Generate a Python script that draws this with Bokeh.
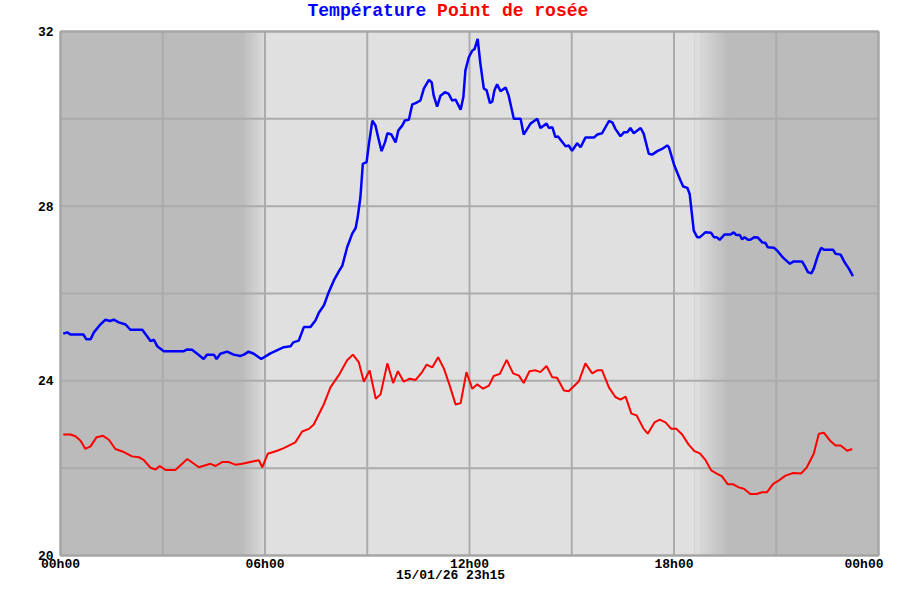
import numpy as np
from bokeh.plotting import figure
from bokeh.models import Range1d
from bokeh.core.properties import value
from bokeh.embed import file_html
from bokeh.resources import INLINE

# ---------------- data ----------------
temp_hours = [0.08, 0.20, 0.29, 0.67, 0.76, 0.88, 0.98, 1.17, 1.32, 1.45, 1.56, 1.71, 1.91, 2.05, 2.40,
              2.54, 2.64, 2.74, 2.84, 3.03, 3.62, 3.72, 3.86, 4.01, 4.20, 4.30, 4.50, 4.58, 4.69, 4.89,
              5.08, 5.28, 5.38, 5.52, 5.67, 5.89, 6.16, 6.41, 6.55, 6.75, 6.83, 6.99, 7.14, 7.33, 7.48,
              7.58, 7.73, 7.87, 8.02, 8.17, 8.27, 8.41, 8.56, 8.66, 8.72, 8.80, 8.87, 8.98, 9.05, 9.15,
              9.24, 9.32, 9.42, 9.52, 9.59, 9.71, 9.83, 9.91, 10.03, 10.10, 10.22, 10.32, 10.42, 10.56,
              10.66, 10.81, 10.89, 10.95, 11.05, 11.15, 11.28, 11.39, 11.49, 11.59, 11.74, 11.82, 11.88,
              11.98, 12.08, 12.15, 12.24, 12.32, 12.42, 12.50, 12.60, 12.67, 12.73, 12.81, 12.91, 13.06,
              13.15, 13.30, 13.50, 13.59, 13.79, 13.99, 14.08, 14.26, 14.33, 14.43, 14.52, 14.59, 14.82,
              14.91, 15.01, 15.16, 15.26, 15.40, 15.65, 15.75, 15.89, 16.09, 16.19, 16.28, 16.43, 16.53,
              16.63, 16.72, 16.82, 17.02, 17.11, 17.26, 17.36, 17.51, 17.65, 17.80, 17.85, 18.01, 18.19,
              18.27, 18.39, 18.46, 18.58, 18.68, 18.76, 18.92, 19.09, 19.17, 19.25, 19.34, 19.48, 19.66,
              19.75, 19.83, 19.93, 20.00, 20.07, 20.17, 20.24, 20.36, 20.46, 20.59, 20.68, 20.75, 20.93,
              21.03, 21.20, 21.40, 21.50, 21.76, 21.83, 21.93, 22.03, 22.10, 22.22, 22.32, 22.40, 22.67,
              22.74, 22.89, 23.00, 23.13, 23.25]
temp_values = [25.08, 25.11, 25.06, 25.06, 24.95, 24.95, 25.11, 25.29, 25.40, 25.37, 25.40, 25.34, 25.29,
               25.17, 25.17, 25.02, 24.91, 24.94, 24.79, 24.68, 24.68, 24.72, 24.71, 24.62, 24.50, 24.60,
               24.60, 24.50, 24.62, 24.67, 24.60, 24.57, 24.60, 24.67, 24.62, 24.50, 24.63, 24.72, 24.77,
               24.79, 24.88, 24.92, 25.23, 25.23, 25.38, 25.56, 25.73, 26.03, 26.30, 26.51, 26.64, 27.06,
               27.37, 27.50, 27.75, 28.21, 28.97, 29.01, 29.43, 29.96, 29.85, 29.58, 29.26, 29.46, 29.67,
               29.64, 29.46, 29.73, 29.85, 29.96, 29.98, 30.33, 30.36, 30.42, 30.69, 30.89, 30.84, 30.53,
               30.28, 30.53, 30.61, 30.57, 30.42, 30.44, 30.21, 30.50, 31.11, 31.41, 31.56, 31.60, 31.83,
               31.26, 30.69, 30.66, 30.36, 30.40, 30.65, 30.79, 30.63, 30.72, 30.53, 30.00, 30.00, 29.64,
               29.89, 30.00, 29.79, 29.89, 29.79, 29.81, 29.58, 29.60, 29.37, 29.39, 29.27, 29.44, 29.35,
               29.57, 29.57, 29.64, 29.67, 29.95, 29.92, 29.77, 29.60, 29.69, 29.69, 29.79, 29.67, 29.79,
               29.66, 29.20, 29.18, 29.26, 29.31, 29.39, 29.35, 28.93, 28.59, 28.45, 28.42, 28.28, 27.44,
               27.29, 27.29, 27.40, 27.39, 27.29, 27.29, 27.23, 27.35, 27.35, 27.40, 27.34, 27.34, 27.24,
               27.29, 27.23, 27.23, 27.29, 27.28, 27.17, 27.16, 27.06, 27.05, 26.98, 26.82, 26.68, 26.73,
               26.73, 26.64, 26.49, 26.46, 26.57, 26.87, 27.05, 27.00, 27.00, 26.91, 26.89, 26.72, 26.57,
               26.40]

dew_hours = [0.08, 0.29, 0.44, 0.59, 0.73, 0.88, 1.06, 1.25, 1.42, 1.61, 1.86, 2.10, 2.30, 2.44, 2.64,
             2.79, 2.91, 3.08, 3.37, 3.72, 4.06, 4.40, 4.55, 4.74, 4.94, 5.13, 5.33, 5.67, 5.82, 5.92,
             6.08, 6.36, 6.55, 6.89, 7.09, 7.29, 7.43, 7.73, 7.92, 8.19, 8.41, 8.58, 8.75, 8.90, 9.07,
             9.25, 9.39, 9.59, 9.76, 9.90, 10.07, 10.25, 10.42, 10.61, 10.74, 10.91, 11.08, 11.25, 11.42,
             11.59, 11.74, 11.91, 12.08, 12.23, 12.40, 12.57, 12.71, 12.89, 13.09, 13.28, 13.45, 13.59,
             13.76, 13.94, 14.08, 14.26, 14.43, 14.57, 14.77, 14.91, 15.21, 15.40, 15.60, 15.75, 15.89,
             16.09, 16.28, 16.43, 16.58, 16.75, 16.90, 17.11, 17.23, 17.43, 17.58, 17.75, 17.92, 18.07,
             18.24, 18.43, 18.60, 18.76, 18.92, 19.09, 19.27, 19.41, 19.58, 19.74, 19.90, 20.05, 20.24,
             20.42, 20.59, 20.73, 20.91, 21.08, 21.27, 21.50, 21.73, 21.89, 22.10, 22.25, 22.40, 22.59,
             22.74, 22.89, 23.08, 23.23]
dew_values = [22.77, 22.77, 22.73, 22.63, 22.44, 22.50, 22.71, 22.74, 22.65, 22.44, 22.37, 22.27, 22.25,
              22.19, 22.01, 21.97, 22.05, 21.96, 21.96, 22.21, 22.02, 22.10, 22.05, 22.14, 22.14, 22.08,
              22.10, 22.16, 22.18, 22.02, 22.33, 22.40, 22.46, 22.59, 22.84, 22.90, 23.00, 23.47, 23.85,
              24.16, 24.47, 24.60, 24.43, 23.98, 24.24, 23.59, 23.69, 24.40, 23.95, 24.22, 23.98, 24.05,
              24.02, 24.20, 24.37, 24.31, 24.54, 24.28, 23.89, 23.46, 23.49, 24.20, 23.82, 23.92, 23.82,
              23.89, 24.11, 24.16, 24.48, 24.17, 24.12, 23.95, 24.22, 24.24, 24.20, 24.34, 24.08, 24.07,
              23.78, 23.76, 23.99, 24.40, 24.17, 24.24, 24.24, 23.85, 23.63, 23.57, 23.64, 23.25, 23.21,
              22.90, 22.79, 23.05, 23.11, 23.05, 22.90, 22.90, 22.77, 22.54, 22.39, 22.34, 22.19, 21.95,
              21.87, 21.81, 21.63, 21.63, 21.56, 21.53, 21.41, 21.41, 21.45, 21.45, 21.64, 21.72, 21.83,
              21.89, 21.88, 22.01, 22.33, 22.79, 22.81, 22.62, 22.52, 22.52, 22.40, 22.44]

x_tick_values = [0, 6, 12, 18, 24]
x_tick_labels = ["00h00", "06h00", "12h00", "18h00", "00h00"]
y_tick_values = [20, 24, 28, 32]
y_tick_labels = ["20", "24", "28", "32"]
x_grid_values = [0, 3, 6, 9, 12, 15, 18, 21, 24]
y_grid_values = [20, 22, 24, 26, 28, 30, 32]
title_parts = ["Température", "Point de rosée"]
date_text = "15/01/26 23h15"
x_min, x_max = 0, 24
y_min, y_max = 20, 32
night_end = (5.3, 6.05)     # dark -> light transition (hours)
night_start = (18.6, 19.6)  # light -> dark transition (hours)

# ---------------- layout (pixels) ----------------
W, H = 884, 584
LEFT, RIGHT_PLOT, TOP, BOTTOM_PLOT = 60, 878, 31, 555   # plot box in canvas pixels
ppx = (RIGHT_PLOT - LEFT) / (x_max - x_min)             # pixels per hour
ppy = (BOTTOM_PLOT - TOP) / (y_max - y_min)             # pixels per degree

def px2x(px):
    return x_min + (px - LEFT) / ppx

def py2y(py):
    return y_min + (BOTTOM_PLOT - py) / ppy

FONT = "Liberation Mono"
p = figure(width=W, height=H,
           x_range=Range1d(px2x(0), px2x(W)), y_range=Range1d(py2y(H), py2y(0)),
           output_backend="svg", toolbar_location=None,
           min_border_left=0, min_border_right=0, min_border_top=0, min_border_bottom=0)
p.title.visible = False
p.background_fill_color = "white"
p.border_fill_color = "white"
p.outline_line_color = None
p.xaxis.visible = False
p.yaxis.visible = False
p.xgrid.visible = False
p.ygrid.visible = False

# ---- background bands (night dark, day light, smooth transitions)
dark = np.array([187, 187, 187], dtype=float)
light = np.array([224, 224, 224], dtype=float)

def hexc(c):
    c = np.clip(np.round(c), 0, 255).astype(int)
    return "#%02x%02x%02x" % tuple(c)

p.quad(left=[x_min], right=[x_max], bottom=[y_min], top=[y_max],
       fill_color=hexc(dark), line_color=None, level="image")
p.quad(left=[night_end[1]], right=[night_start[0]], bottom=[y_min], top=[y_max],
       fill_color=hexc(light), line_color=None, level="image")
n = 40
for (a, b), (c1, c2) in [(night_end, (dark, light)), (night_start, (light, dark))]:
    edges = np.linspace(a, b, n + 1)
    t = (np.arange(n) + 0.5) / n
    cols = [hexc(c1 + (c2 - c1) * ti) for ti in t]
    p.quad(left=edges[:-1], right=edges[1:] + (b - a) / n * 0.6, bottom=y_min, top=y_max,
           fill_color=cols, line_color=None, level="image")

# ---- grid lines and plot border
GRID = "#ABABAB"
p.segment(x0=x_grid_values, x1=x_grid_values, y0=y_min, y1=y_max,
          line_color=GRID, line_width=2, level="underlay")
p.segment(x0=x_min, x1=x_max, y0=y_grid_values, y1=y_grid_values,
          line_color=GRID, line_width=2, level="underlay")
p.quad(left=[x_min], right=[x_max], bottom=[y_min], top=[y_max],
       fill_color=None, line_color="#A4A4A4", line_width=2, level="underlay")

# ---- tick labels
TXT = dict(text_font=value(FONT), text_font_style="bold", text_font_size="13px",
           text_color="black", text_baseline="middle")
p.text(x=px2x(53), y=y_tick_values, text=y_tick_labels, text_align="right", **TXT)
tick_y = py2y(564)
p.text(x=x_tick_values[:-1], y=tick_y, text=x_tick_labels[:-1], text_align="center", **TXT)
p.text(x=[px2x(W - 1)], y=tick_y, text=x_tick_labels[-1:], text_align="right", **TXT)
p.text(x=[px2x(450)], y=py2y(575), text=[date_text], text_align="center", **TXT)

# ---- two-coloured title
p.text(x=[px2x(307)], y=py2y(10), text=title_parts[:1], text_font=value(FONT),
       text_font_style="bold", text_font_size="18px", text_color="#0000FF",
       text_align="left", text_baseline="middle")
p.text(x=[px2x(307 + 12 * 10.8)], y=py2y(10), text=title_parts[1:], text_font=value(FONT),
       text_font_style="bold", text_font_size="18px", text_color="#FF0000",
       text_align="left", text_baseline="middle")

# ---- series
p.line(temp_hours, temp_values, line_color="#0000FF", line_width=2.5)
p.line(dew_hours, dew_values, line_color="#FF0000", line_width=2)

open("out.html", "w").write(file_html(p, INLINE))
